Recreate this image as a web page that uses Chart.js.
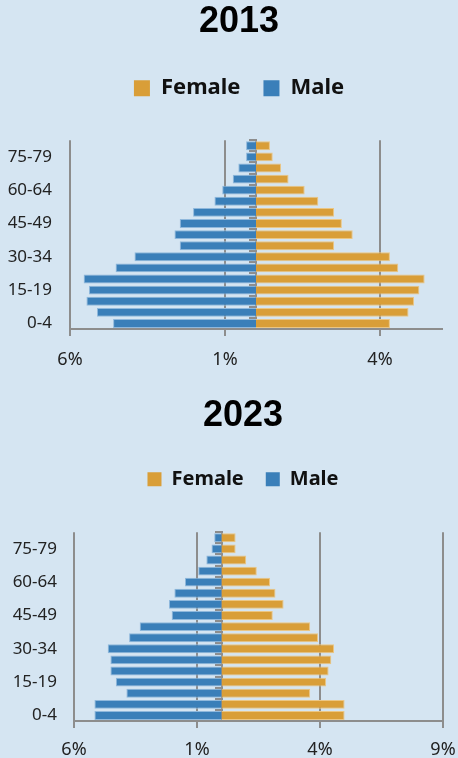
<!DOCTYPE html>
<html lang="en">
<head>
<meta charset="UTF-8">
<meta name="viewport" content="width=device-width, initial-scale=1.0">
<title>Population pyramid 2013 / 2023</title>
<style>
    body { margin: 0; background: #d5e5f2; width: 458px; height: 758px; overflow: hidden; }
    /* each pyramid takes half of the page */
    .chart-container { position: relative; width: 458px; height: 379px; overflow: hidden; }
    canvas { display: block; }
</style>
</head>
<body>
<div class="chart-container"><canvas id="chart2013" width="478" height="379" style="width:478px;height:379px"></canvas></div>
<div class="chart-container"><canvas id="chart2023" width="486" height="379" style="width:486px;height:379px"></canvas></div>

<script src="https://cdn.jsdelivr.net/npm/chart.js@4.4.1/dist/chart.umd.min.js"></script>
<script>
    // age groups, youngest first
    const ageGroups = ['0-4', '5-9', '10-14', '15-19', '20-24', '25-29', '30-34', '35-39', '40-44',
        '45-49', '50-54', '55-59', '60-64', '65-69', '70-74', '75-79', '80+'];

    // share of population (%)
    const male2013 = [4.61, 5.13, 5.47, 5.39, 5.56, 4.53, 3.92, 2.46, 2.63, 2.46, 2.03, 1.34, 1.09, 0.75, 0.57, 0.32, 0.32];
    const female2013 = [4.32, 4.92, 5.10, 5.27, 5.44, 4.59, 4.32, 2.52, 3.12, 2.77, 2.52, 2.01, 1.57, 1.05, 0.81, 0.54, 0.45];
    const male2023 = [5.17, 5.17, 3.87, 4.30, 4.52, 4.52, 4.63, 3.76, 3.33, 2.03, 2.14, 1.92, 1.49, 0.95, 0.62, 0.41, 0.30];
    const female2023 = [5.00, 5.00, 3.60, 4.25, 4.35, 4.46, 4.57, 3.92, 3.60, 2.08, 2.52, 2.19, 1.97, 1.43, 1.00, 0.57, 0.57];

    // x axis ticks (male side is negative)
    const xTicks2013 = [-6, -1, 4];
    const xTicks2023 = [-6, -1, 4, 9];

    const blue = '#3a7fb9';
    const orange = '#d99e38';
    const gridGray = '#8d8d8d';

    Chart.defaults.font.family = 'Noto Sans';
    Chart.defaults.color = '#222';

    function crearPiramide(canvasId, year, female, male, xTicks, xMax, lay) {
        const ctx = document.getElementById(canvasId).getContext('2d');

        return new Chart(ctx, {
            type: 'bar',
            data: {
                labels: ageGroups,
                datasets: [
                    {
                        label: 'Female',
                        data: female,
                        backgroundColor: orange,
                        borderColor: '#ebc684',
                        borderWidth: 1,
                        barPercentage: 0.8,
                        categoryPercentage: 1.0,
                    },
                    {
                        label: 'Male',
                        data: male.map(v => -v),
                        backgroundColor: blue,
                        borderColor: '#8fb8dc',
                        borderWidth: 1,
                        barPercentage: 0.8,
                        categoryPercentage: 1.0,
                    },
                ],
            },
            options: {
                indexAxis: 'y',
                responsive: false,
                animation: false,
                layout: { padding: 0 },
                scales: {
                    x: {
                        stacked: true,
                        min: -6,
                        max: xMax,
                        afterBuildTicks: scale => { scale.ticks = xTicks.map(v => ({ value: v })); },
                        afterFit: scale => { scale.height = lay.xHeight; },
                        grid: { color: gridGray, lineWidth: 2, tickLength: 7 },
                        border: { color: gridGray, width: 2 },
                        ticks: {
                            padding: lay.xPad,
                            font: { size: 18 },
                            callback: v => Math.abs(v) + '%',
                        },
                    },
                    y: {
                        stacked: true,
                        reverse: true,
                        afterFit: scale => { scale.width = lay.axisLeft; },
                        grid: { display: false, drawTicks: false },
                        border: { display: false },
                        ticks: {
                            autoSkip: false,
                            padding: lay.yPad,
                            font: { size: 17 },
                            callback: v => (v % 3 === 0 ? ageGroups[v] : ''),
                        },
                    },
                    // centre line with the small ticks
                    yc: {
                        axis: 'y',
                        type: 'category',
                        position: { x: 0 },
                        reverse: true,
                        offset: true,
                        z: 1,
                        grid: { offset: true, drawOnChartArea: false, color: gridGray, lineWidth: 2, tickLength: 6 },
                        border: { color: gridGray, width: 2 },
                        ticks: { display: false },
                    },
                    // empty axis on the right, keeps the plot narrower than the title area
                    yr: {
                        axis: 'y',
                        type: 'category',
                        position: 'right',
                        display: true,
                        afterFit: scale => { scale.width = lay.rightGap; },
                        grid: { display: false, drawTicks: false },
                        border: { display: false },
                        ticks: { display: false },
                    },
                },
                plugins: {
                    title: {
                        display: true,
                        text: year,
                        color: '#000',
                        font: { family: 'Liberation Sans', size: 36, weight: 'bold' },
                        padding: { top: lay.titleTop, bottom: lay.titleBottom },
                    },
                    legend: {
                        display: true,
                        position: 'top',
                        labels: {
                            color: '#111',
                            font: { size: lay.legendFont, weight: 'bold' },
                            boxWidth: lay.legendBox,
                            boxHeight: lay.legendBox,
                            padding: lay.legendPadding,
                            generateLabels: chart => Chart.defaults.plugins.legend.labels.generateLabels(chart)
                                .map(item => ({ ...item, lineWidth: 0 })),
                        },
                    },
                    // empty subtitle used as a spacer under the legend
                    subtitle: {
                        display: true,
                        text: '',
                        weight: 500,
                        font: { size: 1, lineHeight: 1 },
                        padding: { top: lay.spacer - 1, bottom: 0 },
                    },
                    tooltip: { enabled: false },
                },
            },
        });
    }

    crearPiramide('chart2013', '2013', female2013, male2013, xTicks2013, 6, {
        rightGap: 36, axisLeft: 70, xHeight: 50, xPad: 13, yPad: 18,
        titleTop: 0, titleBottom: 11, legendFont: 22, legendBox: 16, legendPadding: 23, spacer: 31,
    });

    crearPiramide('chart2023', '2023', female2023, male2023, xTicks2023, 9, {
        rightGap: 43, axisLeft: 74, xHeight: 37, xPad: 11, yPad: 17,
        titleTop: 15, titleBottom: 10, legendFont: 20, legendBox: 14, legendPadding: 22, spacer: 33,
    });
</script>
</body>
</html>
